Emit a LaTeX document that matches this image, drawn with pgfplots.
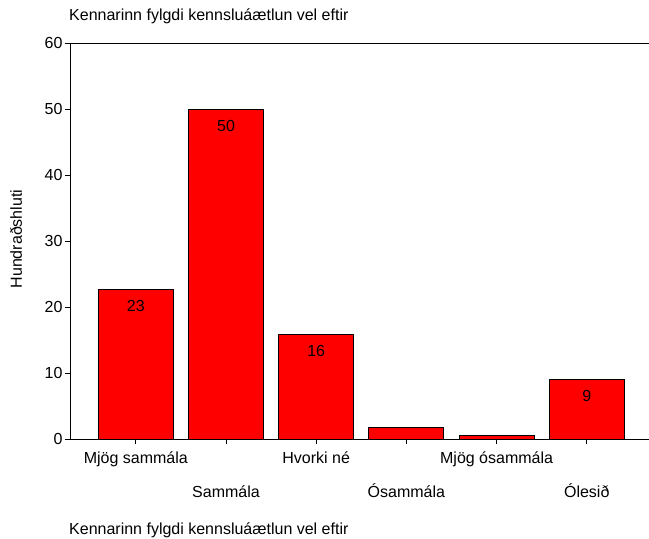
\documentclass[border=0pt]{standalone}
\usepackage{pgfplots}
\pgfplotsset{compat=1.18}
\usepackage{fontspec}
\setmainfont{Liberation Sans}
\begin{document}
\begin{tikzpicture}[x=1pt,y=1pt]
\path[use as bounding box] (0,0) rectangle (649,539);
\begin{axis}[
  at={(70pt,100pt)}, anchor=south west,
  scale only axis, width=579pt, height=396pt,
  xmin=-0.73, xmax=5.69, ymin=0, ymax=60,
  axis x line=bottom, axis y line=left,
  axis line style={-, line width=1pt, black},
  ytick={0,10,20,30,40,50,60},
  xtick={0,2,4},
  xticklabels={Mjög sammála, Hvorki né, Mjög ósammála},
  extra x ticks={1,3,5},
  extra x tick labels={Sammála, Ósammála, Ólesið},
  extra x tick style={xticklabel style={yshift=-34pt}},
  tick style={black, line width=0.8pt},
  major tick length=5pt,
  tick align=outside,
  tick label style={font=\fontsize{16}{18}\selectfont},
  /pgf/number format/assume math mode=true,
  xticklabel style={anchor=base, yshift=-19pt},
  yticklabel style={xshift=1pt},
  clip=false,
]
\addplot[ybar, bar width=75pt, fill=red, draw=black, line width=1pt,
  point meta=explicit symbolic,
  nodes near coords,
  every node near coord/.append style={anchor=center, yshift=-16.5pt, font=\fontsize{16}{18}\selectfont, text=black}]
  coordinates {(0,22.7) [23] (1,50.0) [50] (2,15.8) [16] (3,1.7) [] (4,0.6) [] (5,9.0) [9]};
\draw[line width=1pt] (rel axis cs:0,1) -- (rel axis cs:1,1);
\end{axis}
\node[anchor=base west, inner sep=0pt, font=\fontsize{16}{18}\selectfont] at (69,518) {Kennarinn fylgdi kennsluáætlun vel eftir};
\node[anchor=base west, inner sep=0pt, font=\fontsize{16}{18}\selectfont] at (69,5) {Kennarinn fylgdi kennsluáætlun vel eftir};
\node[rotate=90, font=\fontsize{16}{18}\selectfont] at (16,300) {Hundraðshluti};
\end{tikzpicture}
\end{document}
